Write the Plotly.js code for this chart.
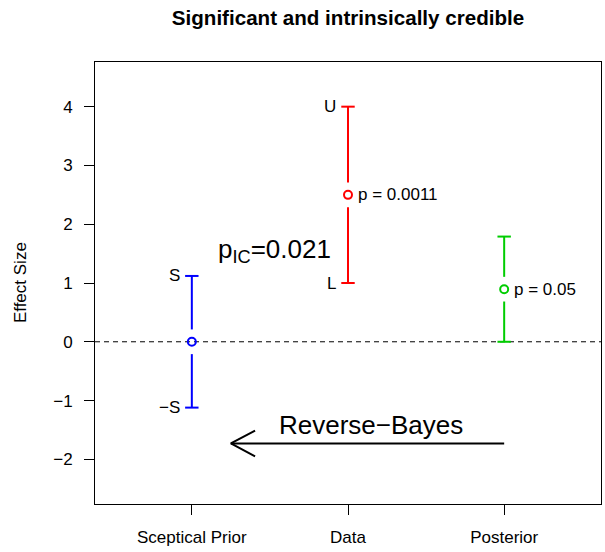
<!DOCTYPE html>
<html><head><meta charset="utf-8">
<script src="https://cdn.plot.ly/plotly-3.0.1.min.js"></script>
<style>body{margin:0;padding:0;background:#fff}#chart{width:605px;height:552px}</style>
</head><body><div id="chart"></div>
<script>
// ---- data ----
const categories = ["Sceptical Prior", "Data", "Posterior"];
const positions = [1, 2, 3];
const estimates = [0, 2.5, 0.895];
const lowerBounds = [-1.12, 1, 0];
const upperBounds = [1.12, 4, 1.79];
const upperLabels = ["S", "U", ""];
const lowerLabels = ["\u2212S", "L", ""];
const pLabels = ["", "p = 0.0011", "p = 0.05"];
const yTicks = [-2, -1, 0, 1, 2, 3, 4];
const pICLabel = "p<sub>IC</sub>=0.021";
const arrowLabel = "Reverse\u2212Bayes";
const arrowStart = 3, arrowEnd = 1.25, arrowLevel = -1.73;

// ---- styles ----
const colors = ["#0000FF", "#FF0000", "#00CD00"];
const FONT = "Liberation Sans, Arial, Helvetica, sans-serif";
const capHalf = 0.043, gap = 0.21, headDx = 0.155, headDy = 0.22;

const traces = [];
positions.forEach((x, i) => {
  const e = estimates[i], lo = lowerBounds[i], up = upperBounds[i];
  traces.push({
    type: "scatter", mode: "lines", hoverinfo: "skip", showlegend: false,
    x: [x, x, null, x, x, null, x - capHalf, x + capHalf, null, x - capHalf, x + capHalf],
    y: [e + gap, up, null, e - gap, lo, null, up, up, null, lo, lo],
    line: {color: colors[i], width: 2}
  });
});
traces.push({
  type: "scatter", mode: "markers", showlegend: false, hoverinfo: "skip",
  x: positions, y: estimates,
  marker: {symbol: "circle-open", size: 8, color: colors, line: {width: 2, color: colors}}
});
// reverse-bayes arrow
traces.push({
  type: "scatter", mode: "lines", showlegend: false, hoverinfo: "skip",
  x: [arrowStart, arrowEnd, null, arrowEnd + headDx, arrowEnd, arrowEnd + headDx],
  y: [arrowLevel, arrowLevel, null, arrowLevel + headDy, arrowLevel, arrowLevel - headDy],
  line: {color: "#000", width: 2}
});

const annotations = [];
positions.forEach((x, i) => {
  if (upperLabels[i]) annotations.push({x: x - capHalf, y: upperBounds[i], xref: "x", yref: "y", text: upperLabels[i], showarrow: false, xanchor: "right", yanchor: "middle", xshift: -3, font: {size: 17, color: "#000", family: FONT}});
  if (lowerLabels[i]) annotations.push({x: x - capHalf, y: lowerBounds[i], xref: "x", yref: "y", text: lowerLabels[i], showarrow: false, xanchor: "right", yanchor: "middle", xshift: -3, font: {size: 17, color: "#000", family: FONT}});
  if (pLabels[i]) annotations.push({x: x, y: estimates[i], xref: "x", yref: "y", text: pLabels[i], showarrow: false, xanchor: "left", yanchor: "middle", xshift: 8, font: {size: 17, color: "#000", family: FONT}});
});
annotations.push({x: 1.53, y: 1.55, xref: "x", yref: "y", text: pICLabel, showarrow: false, xanchor: "center", yanchor: "middle", font: {size: 26, color: "#000", family: FONT}});
annotations.push({x: 2.145, y: -1.41, xref: "x", yref: "y", text: arrowLabel, showarrow: false, xanchor: "center", yanchor: "middle", font: {size: 26, color: "#000", family: FONT}});
annotations.push({x: -0.148, y: 0.5, xref: "paper", yref: "paper", text: "Effect Size", textangle: -90, showarrow: false, xanchor: "center", yanchor: "middle", font: {size: 17, color: "#000", family: FONT}});

const layout = {
  width: 605, height: 552,
  margin: {l: 95, r: 4, t: 62, b: 48, pad: 0},
  paper_bgcolor: "#fff", plot_bgcolor: "#fff",
  font: {family: FONT, size: 17, color: "#000"},
  title: {text: "<b>Significant and intrinsically credible</b>", font: {size: 20.6, color: "#000", family: FONT}, xref: "paper", x: 0.5, xanchor: "center", yref: "container", y: 1 - 18 / 552, yanchor: "middle"},
  xaxis: {range: [0.38, 3.62], tickvals: positions, ticktext: categories, showgrid: false, zeroline: false,
          showline: true, mirror: true, linecolor: "#000", linewidth: 1, ticks: "outside", ticklen: 10, tickcolor: "#000", tickwidth: 1, ticklabelstandoff: 8, fixedrange: true},
  yaxis: {range: [-2.76, 4.76], tickvals: yTicks, showgrid: false, zeroline: false,
          showline: true, mirror: true, linecolor: "#000", linewidth: 1, ticks: "outside", ticklen: 10, tickcolor: "#000", tickwidth: 1, ticklabelstandoff: 8, fixedrange: true},
  shapes: [{type: "line", xref: "paper", x0: 0, x1: 1, yref: "y", y0: 0, y1: 0, layer: "below", line: {color: "#000", width: 1, dash: "5px,4px"}}],
  annotations: annotations,
  showlegend: false
};
Plotly.newPlot("chart", traces, layout, {displayModeBar: false, staticPlot: true});
</script>
</body></html>
